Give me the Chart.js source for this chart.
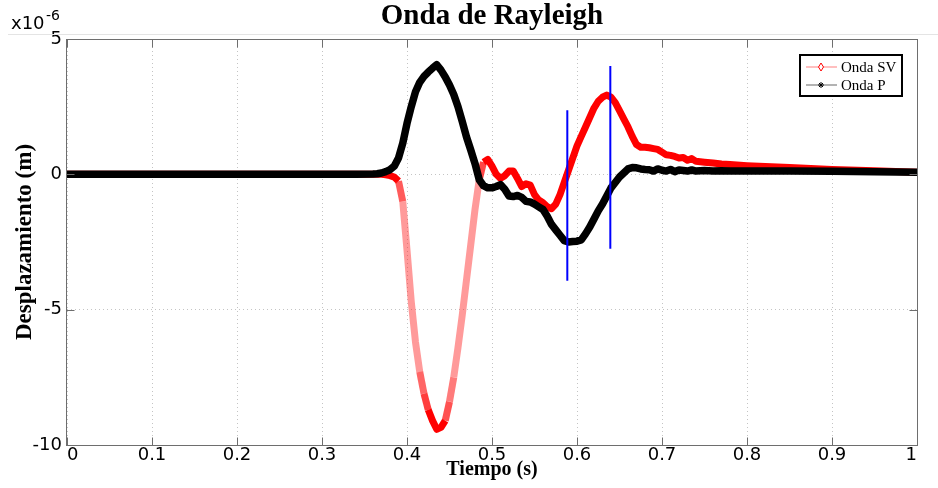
<!DOCTYPE html>
<html lang="es">
<head>
<meta charset="utf-8">
<title>Onda de Rayleigh</title>
<script src="https://cdn.jsdelivr.net/npm/chart.js@4.4.1/dist/chart.umd.min.js"></script>
<style>
    html, body { margin: 0; padding: 0; background: #fff; }
    #wrap { width: 938px; height: 488px; }
</style>
</head>
<body>
<div id="wrap"><canvas id="grafico" width="938" height="488"></canvas></div>
<script>
// --- Datos (desplazamiento en unidades de 1e-6 m) ---

const tiempo = [
    0, 0.05, 0.10, 0.15, 0.20, 0.25, 0.30, 0.34,
    0.36, 0.365, 0.37, 0.375, 0.38, 0.385, 0.39, 0.395,
    0.40, 0.405, 0.41, 0.415, 0.42, 0.425, 0.43, 0.435, 0.44, 0.445,
    0.45, 0.455, 0.46, 0.465, 0.47, 0.475, 0.48, 0.485, 0.49, 0.495,
    0.50, 0.505, 0.51, 0.515, 0.52, 0.525, 0.53, 0.535, 0.54, 0.545,
    0.55, 0.555, 0.56, 0.565, 0.57, 0.575, 0.58, 0.585, 0.59, 0.595,
    0.60, 0.605, 0.61, 0.615, 0.62, 0.625, 0.63, 0.635, 0.64, 0.645,
    0.65, 0.655, 0.66, 0.665, 0.67, 0.675, 0.68, 0.685, 0.69, 0.695,
    0.70, 0.705, 0.71, 0.715, 0.72, 0.725, 0.73, 0.735, 0.74,
    0.75, 0.76, 0.77, 0.78, 0.80, 0.85, 0.90, 0.95, 1.00
];

const ondaSV = [
    0, 0, 0, 0, 0, 0, 0, 0,
    0, 0, 0, -0.02, -0.05, -0.1, -0.25, -1.0,
    -2.8, -4.7, -6.2, -7.3, -8.1, -8.7, -9.1, -9.42, -9.35, -9.1,
    -8.4, -7.5, -6.4, -5.2, -3.9, -2.6, -1.3, -0.2, 0.45, 0.55,
    0.3, 0.0, -0.15, -0.05, 0.12, 0.12, -0.15, -0.45, -0.35, -0.4,
    -0.75, -0.95, -1.05, -1.2, -1.27, -1.1, -0.75, -0.3, 0.15, 0.6,
    1.05, 1.4, 1.75, 2.1, 2.45, 2.7, 2.85, 2.93, 2.85, 2.65,
    2.35, 2.05, 1.75, 1.4, 1.1, 1.0, 1.0, 0.98, 0.95, 0.92,
    0.82, 0.72, 0.7, 0.66, 0.6, 0.62, 0.52, 0.58, 0.48,
    0.45, 0.42, 0.38, 0.36, 0.32, 0.25, 0.18, 0.13, 0.08
];

const ondaP = [
    0, 0, 0, 0, 0, 0, 0, 0,
    0.01, 0.02, 0.05, 0.1, 0.17, 0.3, 0.6, 1.15,
    1.88, 2.5, 3.05, 3.4, 3.62, 3.78, 3.92, 4.05, 3.85, 3.6,
    3.3, 2.95, 2.5, 1.95, 1.38, 0.9, 0.4, -0.2, -0.42, -0.5,
    -0.5, -0.45, -0.38, -0.55, -0.8, -0.82, -0.78, -0.85, -1.0, -1.02,
    -1.1, -1.2, -1.3, -1.55, -1.85, -2.05, -2.25, -2.45, -2.5, -2.48,
    -2.47, -2.42, -2.2, -1.95, -1.65, -1.35, -1.1, -0.8, -0.5, -0.3,
    -0.1, 0.05, 0.2, 0.25, 0.24, 0.2, 0.18, 0.17, 0.12, 0.2,
    0.15, 0.12, 0.18, 0.1, 0.16, 0.14, 0.12, 0.16, 0.12,
    0.14, 0.12, 0.13, 0.12, 0.12, 0.12, 0.11, 0.1, 0.08
];

// Marcas verticales azules (inicio / pico)
const marca1T = [0.5886, 0.5886];
const marca1Y = [2.37, -3.93];
const marca2T = [0.6392, 0.6392];
const marca2Y = [4.0, -2.75];

const ticksX = [0, 0.1, 0.2, 0.3, 0.4, 0.5, 0.6, 0.7, 0.8, 0.9, 1];
const ticksY = [-10, -5, 0, 5];

// --- Construcción ---

function puntos(xs, ys) {
    return xs.map((x, i) => ({ x: x, y: ys[i] }));
}

const fuenteTicks = { family: "'DejaVu Sans', Verdana, sans-serif", size: 18 };
const fuenteSerif = "'Liberation Serif', 'Times New Roman', serif";

// Marco, marcas interiores, línea gris superior, exponente y leyenda
const marcoPlugin = {
    id: 'marco',
    afterDraw(chart) {
        const { ctx, chartArea: a, scales: { x, y } } = chart;
        ctx.save();

        // línea gris de la figura
        ctx.strokeStyle = '#e4e4e4';
        ctx.lineWidth = 1;
        ctx.beginPath();
        ctx.moveTo(8, a.top - 4.5);
        ctx.lineTo(chart.width, a.top - 4.5);
        ctx.stroke();

        // caja de ejes
        const l = Math.round(a.left) - 0.5, r = Math.round(a.right) + 0.5;
        const t = Math.round(a.top) + 0.5, b = Math.round(a.bottom) + 0.5;
        ctx.strokeStyle = '#6e6e6e';
        ctx.strokeRect(l, t, r - l, b - t);

        // marcas hacia dentro
        ctx.beginPath();
        ticksX.forEach(v => {
            const px = Math.round(x.getPixelForValue(v)) + 0.5;
            ctx.moveTo(px, b); ctx.lineTo(px, b - 8);
            ctx.moveTo(px, t); ctx.lineTo(px, t + 8);
        });
        ticksY.forEach(v => {
            const py = Math.round(y.getPixelForValue(v)) + 0.5;
            ctx.moveTo(l, py); ctx.lineTo(l + 8, py);
            ctx.moveTo(r, py); ctx.lineTo(r - 8, py);
        });
        ctx.stroke();

        // exponente del eje Y
        ctx.fillStyle = '#000';
        ctx.textBaseline = 'alphabetic';
        ctx.font = "18px 'DejaVu Sans', sans-serif";
        ctx.fillText('x10', 11, 29);
        ctx.font = "14px 'DejaVu Sans', sans-serif";
        ctx.fillText('-6', 46, 20);

        // leyenda
        const lx = a.right - 118, ly = a.top + 15, lw = 104, lh = 43;
        ctx.fillStyle = '#fff';
        ctx.fillRect(lx, ly, lw, lh);
        ctx.strokeStyle = '#000';
        ctx.lineWidth = 2;
        ctx.strokeRect(lx + 1, ly + 1, lw - 2, lh - 2);

        const entradas = [
            { label: chart.data.datasets[0].label, linea: '#ffaaaa', marca: 'rombo', color: '#ff0000' },
            { label: chart.data.datasets[1].label, linea: '#9a9a9a', marca: 'estrella', color: '#000' }
        ];
        entradas.forEach((e, i) => {
            const cy = ly + 13 + i * 18;
            const cx = lx + 22;
            ctx.lineWidth = 1.5;
            ctx.strokeStyle = e.linea;
            ctx.beginPath();
            ctx.moveTo(lx + 7, cy); ctx.lineTo(lx + 38, cy);
            ctx.stroke();
            ctx.strokeStyle = e.color;
            ctx.lineWidth = 1;
            ctx.beginPath();
            if (e.marca === 'rombo') {
                ctx.fillStyle = '#fff';
                ctx.moveTo(cx, cy - 4); ctx.lineTo(cx + 2.5, cy);
                ctx.lineTo(cx, cy + 4); ctx.lineTo(cx - 2.5, cy);
                ctx.closePath();
                ctx.fill();
            } else {
                ctx.moveTo(cx - 3, cy); ctx.lineTo(cx + 3, cy);
                ctx.moveTo(cx, cy - 3); ctx.lineTo(cx, cy + 3);
                ctx.moveTo(cx - 2, cy - 2); ctx.lineTo(cx + 2, cy + 2);
                ctx.moveTo(cx - 2, cy + 2); ctx.lineTo(cx + 2, cy - 2);
            }
            ctx.stroke();
            ctx.fillStyle = '#000';
            ctx.font = '15px ' + fuenteSerif;
            ctx.textBaseline = 'middle';
            ctx.fillText(e.label, lx + 42, cy + 1);
        });
        ctx.restore();
    }
};

// En los tramos empinados de la onda SV los marcadores se separan y el trazo
// se ve rosado: la opacidad baja poco a poco con la pendiente.
function colorTramoSV(c) {
    const dy = Math.abs(c.p1.parsed.y - c.p0.parsed.y);
    const dx = Math.abs(c.p1.parsed.x - c.p0.parsed.x) || 1e-9;
    const pendiente = dy / dx;
    if (pendiente < 90) return undefined;
    const alfa = Math.max(0.45, 1 - (pendiente - 90) / 220);
    return 'rgba(255, 30, 30, ' + alfa.toFixed(2) + ')';
}

new Chart(document.getElementById('grafico'), {
    type: 'line',
    data: {
        datasets: [
            {
                label: 'Onda SV',
                data: puntos(tiempo, ondaSV),
                borderColor: '#ff0000',
                borderWidth: 7,
                borderJoinStyle: 'round',
                borderCapStyle: 'butt',
                pointRadius: 0,
                order: 2,
                segment: { borderColor: colorTramoSV }
            },
            {
                label: 'Onda P',
                data: puntos(tiempo, ondaP),
                borderColor: '#000000',
                borderWidth: 7.5,
                borderJoinStyle: 'round',
                borderCapStyle: 'round',
                pointRadius: 0,
                order: 1
            },
            {
                label: 'marca1',
                data: puntos(marca1T, marca1Y),
                borderColor: '#0000ff',
                borderWidth: 2,
                pointRadius: 0,
                order: 0
            },
            {
                label: 'marca2',
                data: puntos(marca2T, marca2Y),
                borderColor: '#0000ff',
                borderWidth: 2,
                pointRadius: 0,
                order: 0
            }
        ]
    },
    options: {
        responsive: false,
        animation: false,
        devicePixelRatio: 1,
        layout: { padding: { left: 0, right: 21, top: 0, bottom: 0 } },
        plugins: {
            legend: { display: false },
            tooltip: { enabled: false },
            title: {
                display: true,
                fullSize: false,
                text: 'Onda de Rayleigh',
                color: '#000',
                font: { family: fuenteSerif, size: 29, weight: 'bold', lineHeight: '24px' },
                padding: { top: 5, bottom: 10 }
            }
        },
        scales: {
            x: {
                type: 'linear',
                min: 0,
                max: 1,
                afterFit: s => { s.height = 43; },
                afterBuildTicks: s => { s.ticks = ticksX.map(v => ({ value: v })); },
                ticks: {
                    font: fuenteTicks,
                    color: '#000',
                    padding: 0,
                    align: 'inner',
                    maxRotation: 0,
                    autoSkip: false,
                    callback: v => String(Number(v.toFixed(1)))
                },
                grid: { color: '#c4c4c4', lineWidth: 1, drawTicks: false },
                border: { display: false, dash: [1, 3] },
                title: {
                    display: true,
                    text: 'Tiempo (s)',
                    color: '#000',
                    font: { family: fuenteSerif, size: 20, weight: 'bold' },
                    padding: { top: 0, bottom: 6 }
                }
            },
            y: {
                min: -10,
                max: 5,
                afterFit: s => { s.width = 67; },
                afterBuildTicks: s => { s.ticks = ticksY.map(v => ({ value: v })); },
                ticks: {
                    font: fuenteTicks,
                    color: '#000',
                    padding: 5,
                    callback: v => String(v)
                },
                grid: { color: '#c4c4c4', lineWidth: 1, drawTicks: false },
                border: { display: false, dash: [1, 3] },
                title: {
                    display: true,
                    text: 'Desplazamiento (m)',
                    color: '#000',
                    font: { family: fuenteSerif, size: 23, weight: 'bold' },
                    padding: { top: 11, bottom: 0 }
                }
            }
        }
    },
    plugins: [marcoPlugin]
});
</script>
</body>
</html>
